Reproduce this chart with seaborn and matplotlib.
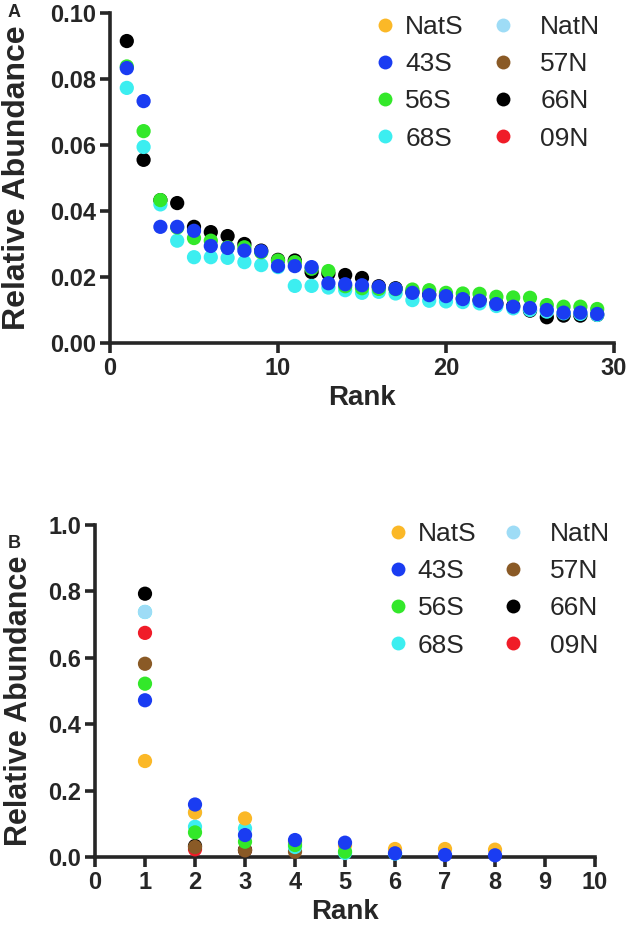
import numpy as np
import pandas as pd
import seaborn as sns
import matplotlib.pyplot as plt
from matplotlib.lines import Line2D

# sample names, legend order
samples = ["NatS", "43S", "56S", "68S", "NatN", "57N", "66N", "09N"]
colors = {"NatS": "#fbb827", "43S": "#1a3cf2", "56S": "#33e82a", "68S": "#3ceef0",
          "NatN": "#9edcf6", "57N": "#8a5a26", "66N": "#000000", "09N": "#f01c28"}
# bottom -> top
draw_order = ["09N", "66N", "57N", "68S", "NatN", "NatS", "56S", "43S"]

# panel A: ranks 1..29
a_43S = [0.0833, 0.0733, 0.0352, 0.0352, 0.0340, 0.0294, 0.0288, 0.0280, 0.0278, 0.0233,
         0.0233, 0.0230, 0.0181, 0.0178, 0.0175, 0.0170, 0.0164, 0.0152, 0.0145, 0.0142,
         0.0133, 0.0128, 0.0118, 0.0110, 0.0106, 0.0100, 0.0092, 0.0092, 0.0088]
a_56S = [0.0838, 0.0642, 0.0433, 0.0350, 0.0318, 0.0310, 0.0290, 0.0290, 0.0275, 0.0250,
         0.0245, 0.0225, 0.0218, 0.0172, 0.0166, 0.0164, 0.0163, 0.0162, 0.0160, 0.0152,
         0.0150, 0.0149, 0.0140, 0.0138, 0.0137, 0.0115, 0.0110, 0.0110, 0.0103]
a_68S = [0.0773, 0.0594, 0.0420, 0.0310, 0.0260, 0.0260, 0.0258, 0.0245, 0.0236, 0.0230,
         0.0173, 0.0173, 0.0168, 0.0160, 0.0152, 0.0155, 0.0150, 0.0130, 0.0128, 0.0126,
         0.0124, 0.0120, 0.0112, 0.0105, 0.0100, 0.0095, 0.0090, 0.0088, 0.0085]
a_66N = [0.0915, 0.0555, 0.0433, 0.0424, 0.0352, 0.0336, 0.0324, 0.0300, 0.0280, 0.0252,
         0.0250, 0.0215, 0.0210, 0.0206, 0.0197, 0.0172, 0.0166, 0.0155, 0.0147, 0.0143,
         0.0135, 0.0130, 0.0120, 0.0112, 0.0098, 0.0078, 0.0083, 0.0083, 0.0085]

# panel B: ranks 1..n
b_NatS = [0.289, 0.134, 0.116, 0.045, 0.035, 0.024, 0.024, 0.022]
b_43S = [0.472, 0.158, 0.066, 0.051, 0.043, 0.011, 0.006, 0.005]
b_56S = [0.522, 0.074, 0.046, 0.036, 0.016]
b_68S = [0.738, 0.091, 0.086, 0.030, 0.012, 0.010]
b_NatN = [0.738, 0.134, 0.066]
b_57N = [0.582, 0.030, 0.020, 0.016]
b_66N = [0.793, 0.033, 0.021]
b_09N = [0.675, 0.023, 0.021]

panel_a = {"43S": a_43S, "56S": a_56S, "68S": a_68S, "66N": a_66N}
panel_b = {"NatS": b_NatS, "43S": b_43S, "56S": b_56S, "68S": b_68S,
           "NatN": b_NatN, "57N": b_57N, "66N": b_66N, "09N": b_09N}


def to_long(d):
    rows = []
    for s in draw_order:
        if s in d:
            for i, v in enumerate(d[s]):
                rows.append((s, i + 1, v))
    return pd.DataFrame(rows, columns=["sample", "rank", "abundance"])


sns.set_style("ticks")
plt.rcParams["font.family"] = ["Liberation Sans", "DejaVu Sans"]

fig = plt.figure(figsize=(6.3, 9.41), dpi=100)
axA = fig.add_axes([0.1746, 0.6355, 0.8000, 0.3507])
axB = fig.add_axes([0.1508, 0.0893, 0.7937, 0.3528])


def style(ax, xlim, ylim, xticks, yticks, yfmt, ylab_xy, ylab_size):
    ax.set_xlim(*xlim)
    ax.set_ylim(*ylim)
    ax.set_xticks(xticks)
    ax.set_yticks(yticks)
    ax.set_yticklabels([yfmt.format(v) for v in yticks])
    sns.despine(ax=ax)
    for sp in ("left", "bottom"):
        ax.spines[sp].set_linewidth(2.6)
    ax.tick_params(width=2.6, length=7, labelsize=17, pad=3)
    for lab in ax.get_xticklabels() + ax.get_yticklabels():
        lab.set_fontweight("bold")
    ax.set_xlabel("Rank", fontsize=20, fontweight="bold")
    ax.set_ylabel("Relative Abundance", fontsize=ylab_size, fontweight="bold")
    ax.yaxis.set_label_coords(*ylab_xy)


def legends(ax, x1, x2, y):
    def handles(names):
        return [Line2D([], [], marker="o", linestyle="", markersize=10,
                       markerfacecolor=colors[n], markeredgewidth=0, label=n) for n in names]
    kw = dict(frameon=False, fontsize=19, labelspacing=0.5, handlelength=0.8,
              borderaxespad=0, borderpad=0, loc="upper left")
    l1 = ax.legend(handles=handles(samples[:4]), bbox_to_anchor=(x1, y),
                   bbox_transform=fig.transFigure, handletextpad=0.35, **kw)
    ax.add_artist(l1)
    ax.legend(handles=handles(samples[4:]), bbox_to_anchor=(x2, y),
              bbox_transform=fig.transFigure, handletextpad=1.0, **kw)


dfA = to_long(panel_a)
sns.scatterplot(data=dfA, x="rank", y="abundance", hue="sample", palette=colors,
                s=105, linewidth=0, legend=False, ax=axA, clip_on=False, zorder=3)
style(axA, (0, 30), (0, 0.10), [0, 10, 20, 30], np.arange(0, 0.101, 0.02), "{:.2f}",
      (-0.155, 0.5), 23)
legends(axA, 0.595, 0.782, 1 - 15 / 941)

dfB = to_long(panel_b)
sns.scatterplot(data=dfB, x="rank", y="abundance", hue="sample", palette=colors,
                s=105, linewidth=0, legend=False, ax=axB, clip_on=False, zorder=3)
style(axB, (0, 10), (0, 1.0), range(0, 11), np.arange(0, 1.01, 0.2), "{:.1f}",
      (-0.122, 0.47), 22)
legends(axB, 0.615, 0.797, 1 - 522 / 941)

fig.text(0.012, 0.987, "A", fontsize=13, fontweight="bold", va="center")
fig.text(0.012, 0.422, "B", fontsize=13, fontweight="bold", va="center")

fig.savefig("out.png", dpi=100)
